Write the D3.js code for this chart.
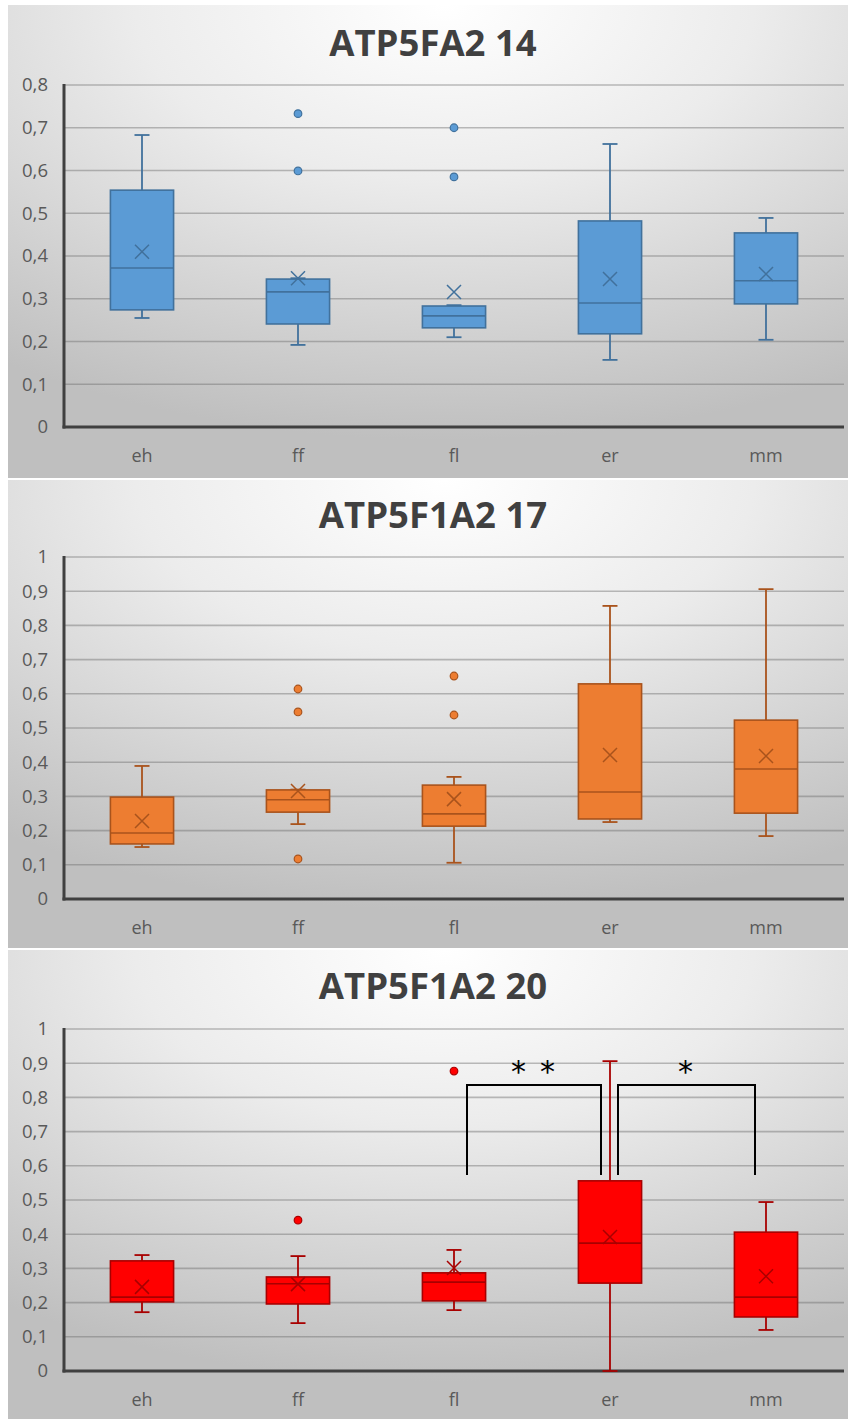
<!DOCTYPE html>
<html><head><meta charset="utf-8">
<script src="https://cdn.jsdelivr.net/npm/d3@7"></script>
<style>html,body{margin:0;padding:0;background:#fff;}svg{display:block;}</style>
</head><body>
<svg id="chart" width="850" height="1419"></svg>
<script>
const categories = ["eh","ff","fl","er","mm"];
const titles = ["ATP5FA2 14","ATP5F1A2 17","ATP5F1A2 20"];
const yMax = [0.8, 1, 1];

// Panel 1 (blue)
const p1WhiskerLow  = [0.255,0.192,0.210,0.157,0.204];
const p1Q1          = [0.274,0.241,0.232,0.218,0.288];
const p1Median      = [0.372,0.316,0.260,0.290,0.342];
const p1Q3          = [0.554,0.346,0.283,0.482,0.454];
const p1WhiskerHigh = [0.683,0.348,0.285,0.662,0.489];
const p1Mean        = [0.410,0.348,0.316,0.346,0.358];
const p1Outliers    = [[],[0.733,0.599],[0.700,0.585],[],[]];

// Panel 2 (orange)
const p2WhiskerLow  = [0.152,0.219,0.106,0.225,0.184];
const p2Q1          = [0.161,0.254,0.213,0.234,0.251];
const p2Median      = [0.193,0.290,0.249,0.313,0.380];
const p2Q3          = [0.298,0.319,0.333,0.629,0.523];
const p2WhiskerHigh = [0.389,0.320,0.357,0.857,0.906];
const p2Mean        = [0.228,0.316,0.292,0.421,0.418];
const p2Outliers    = [[],[0.614,0.547,0.117],[0.652,0.538],[],[]];

// Panel 3 (red)
const p3WhiskerLow  = [0.172,0.140,0.178,0.000,0.120];
const p3Q1          = [0.202,0.196,0.205,0.257,0.158];
const p3Median      = [0.216,0.255,0.260,0.374,0.216];
const p3Q3          = [0.322,0.275,0.287,0.556,0.406];
const p3WhiskerHigh = [0.339,0.336,0.354,0.906,0.494];
const p3Mean        = [0.246,0.254,0.301,0.392,0.277];
const p3Outliers    = [[],[0.441],[0.877],[],[]];

// Significance brackets (panel 3)
const bracketFrom   = ["fl","er"];
const bracketTo     = ["er","mm"];
const bracketTop    = [0.836,0.836];
const bracketBottom = [0.573,0.573];
const bracketStars  = [2, 1];

const panelsData = [
  {lo:p1WhiskerLow,q1:p1Q1,med:p1Median,q3:p1Q3,hi:p1WhiskerHigh,mean:p1Mean,out:p1Outliers},
  {lo:p2WhiskerLow,q1:p2Q1,med:p2Median,q3:p2Q3,hi:p2WhiskerHigh,mean:p2Mean,out:p2Outliers},
  {lo:p3WhiskerLow,q1:p3Q1,med:p3Median,q3:p3Q3,hi:p3WhiskerHigh,mean:p3Mean,out:p3Outliers}
];

// styles / layout
const styles = [
  {fill:"#5B9BD5", stroke:"#41719C"},
  {fill:"#ED7D31", stroke:"#A9531C"},
  {fill:"#FF0000", stroke:"#A80000"}
];
const layout = [
  {top:5,   bottom:478,  titleY:56,   yTop:85,   y0:427,  catY:462},
  {top:480, bottom:948,  titleY:528,  yTop:557,  y0:899,  catY:934},
  {top:950, bottom:1419, titleY:999,  yTop:1029, y0:1371, catY:1406}
];
const plotLeft = 64, plotRight = 844, bgLeft = 8, bgRight = 848;

const svg = d3.select("#chart");
const defs = svg.append("defs");
const grad = defs.append("radialGradient").attr("id","bg")
  .attr("cx","52%").attr("cy","0%").attr("r","92%").attr("fx","52%").attr("fy","0%");
grad.append("stop").attr("offset","0%").attr("stop-color","#ffffff");
grad.append("stop").attr("offset","40%").attr("stop-color","#ececec");
grad.append("stop").attr("offset","100%").attr("stop-color","#bfbfbf");

const fmt = v => d3.format(".1f")(v).replace(/\.0$/,"").replace(".",",");

panelsData.forEach((d, pi) => {
  const L = layout[pi], S = styles[pi];
  const g = svg.append("g");
  g.append("rect").attr("x",bgLeft).attr("y",L.top).attr("width",bgRight-bgLeft)
    .attr("height",L.bottom-L.top).attr("fill","url(#bg)");

  const x = d3.scaleBand().domain(categories).range([plotLeft, plotRight]).padding(0);
  const y = d3.scaleLinear().domain([0, yMax[pi]]).range([L.y0, L.yTop]);
  const ticks = d3.range(0, Math.round(yMax[pi]*10)+1).map(i => i/10);

  g.append("g").selectAll("line").data(ticks.filter(t=>t>0)).join("line")
    .attr("x1",plotLeft).attr("x2",plotRight)
    .attr("y1",t=>y(t)).attr("y2",t=>y(t))
    .attr("stroke","#6e6e6e").attr("stroke-opacity",0.45).attr("stroke-width",1.6);

  const yAxis = d3.axisLeft(y).tickValues(ticks).tickFormat(fmt).tickSize(0).tickPadding(16);
  const ya = g.append("g").attr("transform",`translate(${plotLeft},0)`).call(yAxis);
  ya.select(".domain").remove();
  ya.selectAll("text").attr("font-family","'Open Sans', sans-serif").attr("font-size",18.5)
    .attr("fill","#595959");

  const xAxis = d3.axisBottom(x).tickSize(0).tickPadding(0);
  const xa = g.append("g").attr("transform",`translate(0,${L.catY})`).call(xAxis);
  xa.select(".domain").remove();
  xa.selectAll("text").attr("font-family","'Open Sans', sans-serif").attr("font-size",18)
    .attr("fill","#595959").attr("dy","0");

  g.append("line").attr("x1",plotLeft).attr("x2",plotLeft).attr("y1",L.yTop-1).attr("y2",L.y0+1.5)
    .attr("stroke","#404040").attr("stroke-width",3);
  g.append("line").attr("x1",plotLeft-1.5).attr("x2",plotRight).attr("y1",L.y0).attr("y2",L.y0)
    .attr("stroke","#404040").attr("stroke-width",3);

  g.append("text").attr("x",433).attr("y",L.titleY).attr("text-anchor","middle")
    .attr("font-family","'Open Sans', sans-serif").attr("font-weight","bold")
    .attr("font-size",36.5).attr("fill","#404040").text(titles[pi]);

  const bw = x.bandwidth()*0.405, capW = 15;
  categories.forEach((c, i) => {
    const cx = x(c) + x.bandwidth()/2;
    const bg2 = g.append("g");
    bg2.append("line").attr("x1",cx).attr("x2",cx).attr("y1",y(d.hi[i])).attr("y2",y(d.q3[i]))
      .attr("stroke",S.stroke).attr("stroke-width",1.8);
    bg2.append("line").attr("x1",cx).attr("x2",cx).attr("y1",y(d.q1[i])).attr("y2",y(d.lo[i]))
      .attr("stroke",S.stroke).attr("stroke-width",1.8);
    [d.hi[i], d.lo[i]].forEach(v => {
      bg2.append("line").attr("x1",cx-capW/2).attr("x2",cx+capW/2).attr("y1",y(v)).attr("y2",y(v))
        .attr("stroke",S.stroke).attr("stroke-width",1.8);
    });
    bg2.append("rect").attr("x",cx-bw/2).attr("width",bw)
      .attr("y",y(d.q3[i])).attr("height",y(d.q1[i])-y(d.q3[i]))
      .attr("fill",S.fill).attr("stroke",S.stroke).attr("stroke-width",1.6);
    bg2.append("line").attr("x1",cx-bw/2).attr("x2",cx+bw/2).attr("y1",y(d.med[i])).attr("y2",y(d.med[i]))
      .attr("stroke",S.stroke).attr("stroke-width",1.6);
    const my = y(d.mean[i]), m = 7;
    bg2.append("path").attr("d",`M${cx-m},${my-m}L${cx+m},${my+m}M${cx-m},${my+m}L${cx+m},${my-m}`)
      .attr("stroke",S.stroke).attr("stroke-width",1.5).attr("fill","none");
    bg2.selectAll("circle").data(d.out[i]).join("circle")
      .attr("cx",cx).attr("cy",v=>y(v)).attr("r",3.8)
      .attr("fill",S.fill).attr("stroke",S.stroke).attr("stroke-width",1.2);
  });

  if (pi === 2) {
    const insetL = [13, 8], insetR = [9, 11];
    const starGap = 29;
    bracketFrom.forEach((f, k) => {
      const x1 = x(f) + x.bandwidth()/2 + insetL[k];
      const x2 = x(bracketTo[k]) + x.bandwidth()/2 - insetR[k];
      const yt = y(bracketTop[k]), yb = y(bracketBottom[k]);
      g.append("path").attr("d",`M${x1},${yb}L${x1},${yt}L${x2},${yt}L${x2},${yb}`)
        .attr("fill","none").attr("stroke","#000").attr("stroke-width",2);
      const n = bracketStars[k];
      const mid = (x1+x2)/2 - 1;
      d3.range(n).forEach(j => {
        g.append("text").attr("x", mid + (j-(n-1)/2)*starGap).attr("y",yt-3)
          .attr("text-anchor","middle")
          .attr("font-family","'DejaVu Sans', sans-serif").attr("font-size",30)
          .attr("fill","#000").text("*");
      });
    });
  }
});
</script>
</body></html>
